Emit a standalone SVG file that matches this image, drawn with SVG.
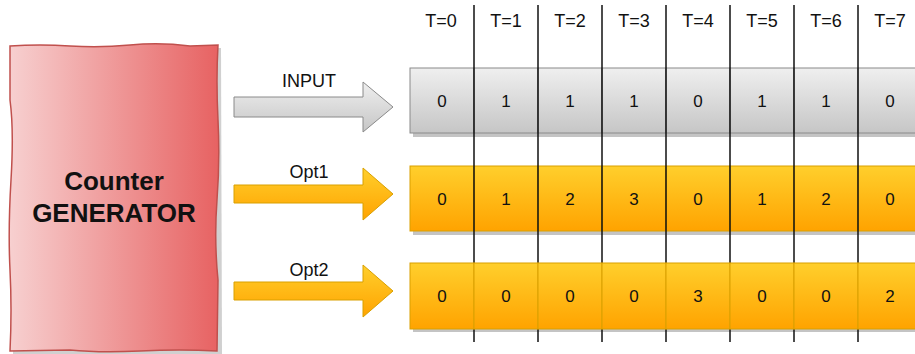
<svg xmlns="http://www.w3.org/2000/svg" width="915" height="354" viewBox="0 0 915 354">
  <defs>
    <linearGradient id="redFill" x1="0" y1="0" x2="1" y2="0">
      <stop offset="0" stop-color="#f7d0d0"/>
      <stop offset="1" stop-color="#e76262"/>
    </linearGradient>
    <linearGradient id="greyFill" x1="0" y1="0" x2="0" y2="1">
      <stop offset="0" stop-color="#efefef"/>
      <stop offset="1" stop-color="#c6c6c6"/>
    </linearGradient>
    <linearGradient id="goldFill" x1="0" y1="0" x2="0" y2="1">
      <stop offset="0" stop-color="#ffcf2c"/>
      <stop offset="1" stop-color="#ffa300"/>
    </linearGradient>
    <style>
      text { font-family: "Liberation Sans", Arial, sans-serif; fill: #111; }
      .lbl { font-size: 18px; text-anchor: middle; }
      .val { font-size: 17px; text-anchor: middle; }
      .big { font-size: 26px; font-weight: bold; text-anchor: middle; }
      .shadow { fill: #c4c4c4; }
      .grey { fill: url(#greyFill); stroke: #8a8a8a; stroke-width: 1; }
      .gold { fill: url(#goldFill); stroke: #d9a000; stroke-width: 1; }
      .tick { stroke: #111; stroke-width: 1.5; }
    </style>
  </defs>

  <rect width="915" height="354" fill="#ffffff"/>

  <!-- generator block with hand-drawn edges -->
  <g id="generator">
    <path d="M13,49 L221,48 L222,355 L13,355 Z" class="shadow" opacity="0.8"/>
    <path d="M10,46 Q40,44 70,46 T130,45 T190,46 L218,45 Q216,80 218,120 T217,200 T218,280 L217,351 Q180,349 140,351 T70,350 L10,351 Q12,310 10,270 T11,180 T10,100 Z"
          fill="url(#redFill)" stroke="#c0504d" stroke-width="1.5"/>
    <text class="big" x="114" y="190">Counter</text>
    <text class="big" x="114" y="222">GENERATOR</text>
  </g>

  <!-- arrows feeding each row -->
  <g id="connectors">
    <g id="arrow-input">
      <path d="M234,97 L363,97 L363,82 L393,107 L363,132 L363,117 L234,117 Z" fill="url(#greyFill)" stroke="#8a8a8a" stroke-width="1"/>
      <text class="lbl" x="309" y="87">INPUT</text>
    </g>
    <g id="arrow-opt1">
      <path d="M234,185 L363,185 L363,168 L393,194 L363,220 L363,203 L234,203 Z" class="gold"/>
      <text class="lbl" x="309" y="178">Opt1</text>
    </g>
    <g id="arrow-opt2">
      <path d="M234,282 L363,282 L363,265 L393,291 L363,317 L363,300 L234,300 Z" class="gold"/>
      <text class="lbl" x="309" y="276">Opt2</text>
    </g>
  </g>

  <!-- time labels -->
  <g id="time-axis">
    <text class="lbl" x="441" y="27">T=0</text>
    <text class="lbl" x="506" y="27">T=1</text>
    <text class="lbl" x="570" y="27">T=2</text>
    <text class="lbl" x="634" y="27">T=3</text>
    <text class="lbl" x="698" y="27">T=4</text>
    <text class="lbl" x="762" y="27">T=5</text>
    <text class="lbl" x="826" y="27">T=6</text>
    <text class="lbl" x="890" y="27">T=7</text>
  </g>

  <!-- row shadows -->
  <g id="shadows">
    <rect class="shadow" x="413" y="71" width="510" height="66"/>
    <rect class="shadow" x="413" y="169" width="510" height="66"/>
    <rect class="shadow" x="413" y="266" width="510" height="66"/>
  </g>

  <!-- INPUT row -->
  <g id="row-input">
    <rect class="grey" x="410" y="68" width="64" height="65"/>
    <rect class="grey" x="474" y="68" width="64" height="65"/>
    <rect class="grey" x="538" y="68" width="64" height="65"/>
    <rect class="grey" x="602" y="68" width="64" height="65"/>
    <rect class="grey" x="666" y="68" width="64" height="65"/>
    <rect class="grey" x="730" y="68" width="64" height="65"/>
    <rect class="grey" x="794" y="68" width="64" height="65"/>
    <rect class="grey" x="858" y="68" width="64" height="65"/>
    <text class="val" x="442" y="107">0</text>
    <text class="val" x="506" y="107">1</text>
    <text class="val" x="570" y="107">1</text>
    <text class="val" x="634" y="107">1</text>
    <text class="val" x="698" y="107">0</text>
    <text class="val" x="762" y="107">1</text>
    <text class="val" x="826" y="107">1</text>
    <text class="val" x="890" y="107">0</text>
  </g>

  <!-- Opt1 row -->
  <g id="row-opt1">
    <rect class="gold" x="410" y="166" width="64" height="65"/>
    <rect class="gold" x="474" y="166" width="64" height="65"/>
    <rect class="gold" x="538" y="166" width="64" height="65"/>
    <rect class="gold" x="602" y="166" width="64" height="65"/>
    <rect class="gold" x="666" y="166" width="64" height="65"/>
    <rect class="gold" x="730" y="166" width="64" height="65"/>
    <rect class="gold" x="794" y="166" width="64" height="65"/>
    <rect class="gold" x="858" y="166" width="64" height="65"/>
    <text class="val" x="442" y="205">0</text>
    <text class="val" x="506" y="205">1</text>
    <text class="val" x="570" y="205">2</text>
    <text class="val" x="634" y="205">3</text>
    <text class="val" x="698" y="205">0</text>
    <text class="val" x="762" y="205">1</text>
    <text class="val" x="826" y="205">2</text>
    <text class="val" x="890" y="205">0</text>
  </g>

  <!-- time step separators -->
  <g id="ticks">
    <line class="tick" x1="474" y1="5" x2="474" y2="342"/>
    <line class="tick" x1="538" y1="5" x2="538" y2="342"/>
    <line class="tick" x1="602" y1="5" x2="602" y2="342"/>
    <line class="tick" x1="666" y1="5" x2="666" y2="342"/>
    <line class="tick" x1="730" y1="5" x2="730" y2="342"/>
    <line class="tick" x1="794" y1="5" x2="794" y2="342"/>
    <line class="tick" x1="858" y1="5" x2="858" y2="342"/>
  </g>

  <!-- Opt2 row -->
  <g id="row-opt2">
    <rect class="gold" x="410" y="263" width="64" height="66"/>
    <rect class="gold" x="474" y="263" width="64" height="66"/>
    <rect class="gold" x="538" y="263" width="64" height="66"/>
    <rect class="gold" x="602" y="263" width="64" height="66"/>
    <rect class="gold" x="666" y="263" width="64" height="66"/>
    <rect class="gold" x="730" y="263" width="64" height="66"/>
    <rect class="gold" x="794" y="263" width="64" height="66"/>
    <rect class="gold" x="858" y="263" width="64" height="66"/>
    <text class="val" x="442" y="302">0</text>
    <text class="val" x="506" y="302">0</text>
    <text class="val" x="570" y="302">0</text>
    <text class="val" x="634" y="302">0</text>
    <text class="val" x="698" y="302">3</text>
    <text class="val" x="762" y="302">0</text>
    <text class="val" x="826" y="302">0</text>
    <text class="val" x="890" y="302">2</text>
  </g>
</svg>
